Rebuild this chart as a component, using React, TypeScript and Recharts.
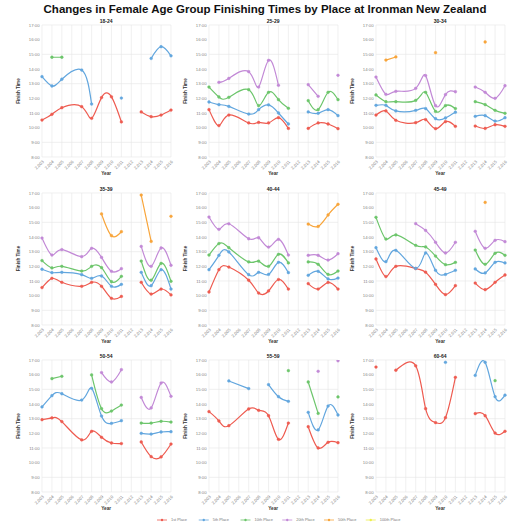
import React from "react";
import { CartesianGrid, Line, LineChart, XAxis, YAxis } from "recharts";

// no race rows for 2006; 2012 row kept with nulls so lines break there
const YEARS = [2003, 2004, 2005, 2007, 2008, 2009, 2010, 2011, 2012, 2013, 2014, 2015, 2016];
const YEAR_TICKS = [2003, 2004, 2005, 2006, 2007, 2008, 2009, 2010, 2011, 2012, 2013, 2014, 2015, 2016];
const HOUR_TICKS = [8, 9, 10, 11, 12, 13, 14, 15, 16, 17];

const PLACES = ["1st Place", "5th Place", "10th Place", "20th Place", "50th Place", "100th Place"];
const COLORS = ["#ee5b50", "#62a6de", "#6cc56b", "#c289d6", "#f8a53b", "#eeee4a"];

const _ = null;

// finish times in hours, one value per entry of YEARS
const g1824_1st = [10.52, 10.91, 11.36, 11.43, 10.64, 12.05, 12.1, 10.39, _, 11.07, 10.75, 10.86, 11.2];
const g1824_5th = [13.48, 12.84, 13.3, 13.93, 11.61, _, _, 12.02, _, _, 14.72, 15.52, 14.9];
const g1824_10th = [_, 14.8, 14.8, _, _, _, _, _, _, _, _, _, _];

const g2529_1st = [11.23, 10.14, 10.86, 10.32, 10.36, 10.32, 10.68, 9.95, _, 9.95, 10.32, 10.25, 9.93];
const g2529_5th = [11.75, 11.57, 11.45, 10.93, 11.23, 11.55, 11.0, 10.25, _, 11.07, 10.98, 11.23, 10.82];
const g2529_10th = [12.77, 12.09, 12.07, 12.59, 11.5, 12.41, 11.91, 11.32, _, 11.84, 11.23, 12.41, 11.91];
const g2529_20th = [_, 13.09, 13.36, 13.82, 12.77, 14.59, 12.89, _, _, 12.93, 12.14, _, 13.57];

const g3034_1st = [10.86, 11.14, 10.5, 10.34, 10.55, 9.93, 10.41, 10.09, _, 10.11, 9.95, 10.2, 10.09];
const g3034_5th = [11.52, 11.52, 11.14, 11.18, 11.3, 10.61, 10.66, 11.05, _, 10.77, 10.82, 10.45, 10.68];
const g3034_10th = [12.23, 11.77, 11.77, 11.86, 12.41, 11.11, 11.5, 11.3, _, 11.77, 11.57, 11.18, 10.98];
const g3034_20th = [13.45, 12.27, 12.48, 12.68, 13.55, 11.5, 12.25, 12.45, _, 12.77, 12.41, 12.0, 12.86];
const g3034_50th = [_, 14.61, 14.82, _, _, 15.11, _, _, _, _, 15.84, _, _];

const g3539_1st = [10.55, 11.18, 10.91, 10.64, 10.91, 10.64, 9.82, 9.95, _, 10.91, 10.11, 10.45, 10.05];
const g3539_5th = [11.8, 11.57, 11.59, 11.43, 11.18, 11.34, 10.64, 10.77, _, 11.59, 10.68, 11.77, 10.45];
const g3539_10th = [12.39, 11.89, 12.0, 11.68, 12.0, 11.91, 10.95, 11.32, _, 12.36, 11.05, 12.2, 10.98];
const g3539_20th = [13.93, 12.77, 13.14, 12.66, 13.23, 12.61, 11.66, 11.84, _, 13.36, 12.0, 13.25, 12.07];
const g3539_50th = [_, _, _, _, _, 15.57, 14.09, 14.36, _, 16.86, 13.7, _, 15.41];

const g4044_1st = [10.25, 11.77, 11.95, 11.05, 10.18, 10.32, 11.1, 10.45, _, 10.82, 10.45, 10.9, 10.45];
const g4044_5th = [11.77, 12.75, 12.98, 11.43, 11.59, 11.45, 12.27, 11.57, _, 11.39, 11.66, 11.14, 11.2];
const g4044_10th = [12.77, 13.55, 13.27, 12.3, 12.35, 12.0, 12.82, 12.23, _, 12.3, 12.14, 11.45, 11.68];
const g4044_20th = [15.36, 14.52, 14.9, 13.88, 13.95, 13.31, 13.84, 12.77, _, 12.75, 12.75, 12.43, 12.86];
const g4044_50th = [_, _, _, _, _, _, _, _, _, 14.88, 14.72, 15.5, 16.23];

const g4549_1st = [12.5, 11.3, 12.0, 11.85, 11.6, 10.77, 10.07, 10.68, _, 10.86, 10.41, 10.91, 11.41];
const g4549_5th = [13.27, 12.32, 13.09, 11.86, 12.91, 11.73, 11.45, 11.73, _, 11.82, 11.55, 12.27, 12.23];
const g4549_10th = [15.34, 13.86, 14.14, 13.43, 13.32, 12.7, 12.11, 12.27, _, 13.11, 12.14, 12.89, 12.75];
const g4549_20th = [_, _, _, 14.91, 14.45, 13.64, 12.91, 13.64, _, 14.39, 13.23, 13.77, 13.68];
const g4549_50th = [_, _, _, _, _, _, _, _, _, _, 16.36, _, _];

const g5054_1st = [12.93, 13.05, 12.8, 11.55, 12.14, 11.73, 11.34, 11.3, _, 11.41, 10.41, 10.39, 11.27];
const g5054_5th = [13.8, 14.57, 14.7, 14.27, 15.07, 13.18, 12.68, 12.86, _, 12.0, 11.95, 12.09, 12.11];
const g5054_10th = [_, 15.73, 15.89, _, 15.98, 13.68, 13.52, 13.93, _, 12.7, 12.7, 12.82, 12.77];
const g5054_20th = [_, _, _, _, _, 16.14, 15.5, 16.34, _, 14.45, 13.73, 15.43, 14.52];

const g5559_1st = [13.48, 12.84, 12.52, 13.66, 13.57, 13.2, 11.59, 12.7, _, 12.45, 11.0, 11.39, 11.36];
const g5559_5th = [_, _, 15.57, 15.05, _, 15.32, 14.5, 14.18, _, 13.43, 12.23, 13.86, 13.25];
const g5559_10th = [_, _, _, _, _, _, _, 16.27, _, 15.5, 13.36, _, 14.48];
const g5559_20th = [_, _, _, _, _, _, _, _, _, _, 16.23, _, 16.95];

const g6064_1st = [16.52, _, 16.3, 16.6, 13.68, 12.73, 13.07, 15.82, _, 13.34, 13.2, 12.02, 12.14];
const g6064_5th = [_, _, _, _, _, _, 16.84, _, _, 15.95, 16.84, 14.5, 14.6];
const g6064_10th = [_, _, _, _, _, _, _, _, _, _, _, 15.59, _];

type Series = (number | null)[] | null;

const PANELS: { group: string; series: Series[] }[] = [
  { group: "18-24", series: [g1824_1st, g1824_5th, g1824_10th] },
  { group: "25-29", series: [g2529_1st, g2529_5th, g2529_10th, g2529_20th] },
  { group: "30-34", series: [g3034_1st, g3034_5th, g3034_10th, g3034_20th, g3034_50th] },
  { group: "35-39", series: [g3539_1st, g3539_5th, g3539_10th, g3539_20th, g3539_50th] },
  { group: "40-44", series: [g4044_1st, g4044_5th, g4044_10th, g4044_20th, g4044_50th] },
  { group: "45-49", series: [g4549_1st, g4549_5th, g4549_10th, g4549_20th, g4549_50th] },
  { group: "50-54", series: [g5054_1st, g5054_5th, g5054_10th, g5054_20th] },
  { group: "55-59", series: [g5559_1st, g5559_5th, g5559_10th, g5559_20th] },
  { group: "60-64", series: [g6064_1st, g6064_5th, g6064_10th] },
];

const FONT = '"Liberation Sans", Arial, Helvetica, sans-serif';

// layout of one small multiple
const CHART_W = 177;
const CHART_H = 168;
const PLOT_L = 42;
const PLOT_T = 12;
const PLOT_W = 129;
const PLOT_H = 132;
const COL_STEP = 167;
const ROW_STEP = 167.5;
const COL0 = -0.3;
const ROW0 = 13;

function Panel({ series }: { series: Series[] }) {
  const rows = YEARS.map((year, i) => {
    const row: Record<string, number | null> = { year };
    series.forEach((s, k) => {
      if (s) row["s" + k] = s[i];
    });
    return row;
  });
  return (
    <LineChart
      width={CHART_W}
      height={CHART_H}
      data={rows}
      margin={{ top: PLOT_T, right: CHART_W - PLOT_L - PLOT_W, bottom: 0, left: 12 }}
    >
      <CartesianGrid stroke="#e6e6e6" strokeWidth={0.6} />
      <XAxis
        dataKey="year"
        type="number"
        domain={[2003, 2016]}
        ticks={YEAR_TICKS}
        interval={0}
        height={CHART_H - PLOT_T - PLOT_H}
        axisLine={false}
        tickLine={false}
        tickSize={0}
        tickMargin={3}
        angle={-45}
        textAnchor="end"
        tick={{ fontSize: 4.3, fill: "#858585", fontFamily: FONT }}
        tickFormatter={(v) => Number(v).toLocaleString("en-US")}
      />
      <YAxis
        type="number"
        domain={[8, 17]}
        ticks={HOUR_TICKS}
        allowDataOverflow
        width={30}
        axisLine={false}
        tickLine={false}
        tickSize={0}
        tickMargin={2.4}
        tick={{ fontSize: 4.3, fill: "#858585", fontFamily: FONT }}
        tickFormatter={(v) => `${v}:00`}
      />
      {series.map((s, k) =>
        s ? (
          <Line
            key={k}
            dataKey={"s" + k}
            type="natural"
            stroke={COLORS[k]}
            strokeWidth={1.2}
            dot={{ r: 1.4, fill: COLORS[k], stroke: COLORS[k], strokeWidth: 0.4 }}
            isAnimationActive={false}
          />
        ) : null
      )}
    </LineChart>
  );
}

export default function App() {
  return (
    <div
      style={{
        position: "absolute",
        left: 0,
        top: 0,
        width: 530,
        height: 530,
        background: "#fff",
        fontFamily: FONT,
        overflow: "hidden",
      }}
    >
      {PANELS.map((p, i) => {
        const c = i % 3;
        const r = Math.floor(i / 3);
        return (
          <div
            key={p.group}
            style={{ position: "absolute", left: COL0 + c * COL_STEP, top: ROW0 + r * ROW_STEP }}
          >
            <Panel series={p.series} />
          </div>
        );
      })}
      <svg
        width={530}
        height={530}
        style={{ position: "absolute", left: 0, top: 0, pointerEvents: "none" }}
        fontFamily={FONT}
      >
        <text x={265} y={13.3} textAnchor="middle" fontSize={11.5} fontWeight="bold" fill="#111">
          Changes in Female Age Group Finishing Times by Place at Ironman New Zealand
        </text>
        {PANELS.map((p, i) => {
          const c = i % 3;
          const r = Math.floor(i / 3);
          const L = COL0 + c * COL_STEP + PLOT_L;
          const T = ROW0 + r * ROW_STEP + PLOT_T;
          return (
            <g key={p.group}>
              <text x={L + PLOT_W / 2} y={T - 1.6} textAnchor="middle" fontSize={5} fontWeight="bold" fill="#222">
                {p.group}
              </text>
              <text
                x={L - 22}
                y={T + PLOT_H / 2}
                textAnchor="middle"
                fontSize={4.6}
                fontWeight="bold"
                fill="#333"
                transform={`rotate(-90 ${L - 22} ${T + PLOT_H / 2})`}
              >
                Finish Time
              </text>
              <text x={L + PLOT_W / 2} y={T + PLOT_H + 18} textAnchor="middle" fontSize={4.7} fontWeight="bold" fill="#333">
                Year
              </text>
            </g>
          );
        })}
        {PLACES.map((name, k) => {
          const x = 157 + k * 41.75;
          return (
            <g key={name}>
              <line x1={x} y1={520} x2={x + 10} y2={520} stroke={COLORS[k]} strokeWidth={0.8} />
              <circle cx={x + 5} cy={520} r={1.2} fill={COLORS[k]} />
              <text x={x + 14} y={521.4} fontSize={3.9} fill="#777">
                {name}
              </text>
            </g>
          );
        })}
      </svg>
    </div>
  );
}
